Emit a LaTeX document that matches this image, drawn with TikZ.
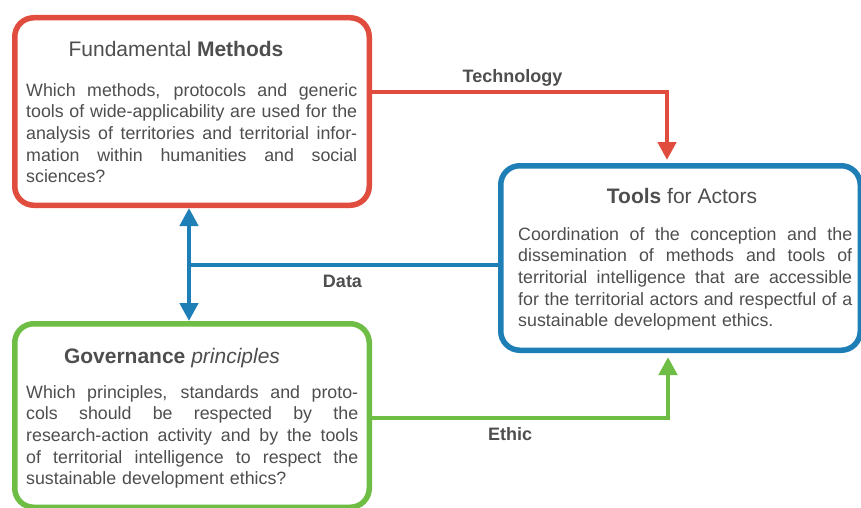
\documentclass[tikz,border=0pt]{standalone}
\usepackage{fontspec}
\setmainfont{Liberation Sans}
\usetikzlibrary{arrows.meta,calc}
\definecolor{cred}{RGB}{224,76,62}
\definecolor{cblue}{RGB}{30,127,182}
\definecolor{cgreen}{RGB}{110,190,70}
\definecolor{ctext}{RGB}{78,78,78}
\newcommand{\jl}[2]{\makebox[#1][s]{\spaceskip=0.278em plus 3em minus 0.12em\relax #2}}
\tikzset{
  box/.style={draw, line width=5.5pt, rounded corners=19pt, fill=white, inner sep=0pt},
  boxtitle/.style={anchor=base, inner sep=0pt, text=ctext, font=\fontsize{21}{25}\selectfont},
  boxbody/.style={anchor=base west, inner sep=0pt, text=ctext, align=left, font=\fontsize{17.8}{21.7}\selectfont},
  conn/.style={line width=4.5pt, line cap=butt, line join=miter},
  tip/.style={-{Triangle[width=18pt,length=18pt]}},
  conlabel/.style={anchor=base, inner sep=0pt, text=ctext, font=\fontsize{18}{22}\selectfont\bfseries},
}
\begin{document}
\begin{tikzpicture}[x=1pt,y=-1pt]
\useasboundingbox (0,0) rectangle (861,508);
\clip (0,0) rectangle (861,508);
\fill[white] (0,0) rectangle (861,508);

% boxes
\node[box, draw=cred, minimum width=354.5pt, minimum height=187.5pt] (methods) at (192,111.5) {};
\node[box, draw=cblue, minimum width=359.5pt, minimum height=184.5pt] (tools) at (680.5,258) {};
\node[box, draw=cgreen, minimum width=354.5pt, minimum height=183.5pt] (gov) at (192,415.5) {};

% titles
\node[boxtitle] (mtitle) at (176,57) {Fundamental \textbf{Methods}};
\node[boxtitle] (ttitle) at (682,203) {\textbf{Tools} for Actors};
\node[boxtitle] (gtitle) at (172,363) {\textbf{Governance} \textit{principles}};

% bodies
\node[boxbody, text width=331pt] (mbody) at (26,96) {%
\jl{331pt}{Which methods, protocols and generic}\\
\jl{331pt}{tools of wide-applicability are used for the}\\
\jl{331pt}{analysis of territories and territorial infor-}\\
\jl{331pt}{mation within humanities and social}\\
sciences?};
\node[boxbody, text width=334pt] (tbody) at (518,240) {%
\jl{334pt}{Coordination of the conception and the}\\
\jl{334pt}{dissemination of methods and tools of}\\
\jl{334pt}{territorial intelligence that are accessible}\\
\jl{334pt}{for the territorial actors and respectful of a}\\
sustainable development ethics.};
\node[boxbody, text width=332pt] (gbody) at (26,398) {%
\jl{332pt}{Which principles, standards and proto-}\\
\jl{332pt}{cols should be respected by the}\\
\jl{332pt}{research-action activity and by the tools}\\
\jl{332pt}{of territorial intelligence to respect the}\\
sustainable development ethics?};

% connector bend points
\coordinate (tk) at (667,92);
\coordinate (dk) at (189,265);
\coordinate (ek) at (668,418);

% Technology
\draw[conn, cred, tip, shorten >=3pt] (methods.east |- tk) -- (tk) -- (tools.north -| tk);
% Data
\draw[conn, cblue, {Triangle[width=18pt,length=18pt]}-{Triangle[width=18pt,length=18pt]}] (methods.south -| dk) -- (gov.north -| dk);
\draw[conn, cblue] (tools.west |- dk) -- (dk);
% Ethic
\draw[conn, cgreen, tip, shorten >=4pt] (gov.east |- ek) -- (ek) -- (tools.south -| ek);

% labels
\node[conlabel] (ltech) at (512.5,83) {Technology};
\node[conlabel] (ldata) at (342.5,287) {Data};
\node[conlabel] (lethic) at (510,440) {Ethic};
\end{tikzpicture}
\end{document}
